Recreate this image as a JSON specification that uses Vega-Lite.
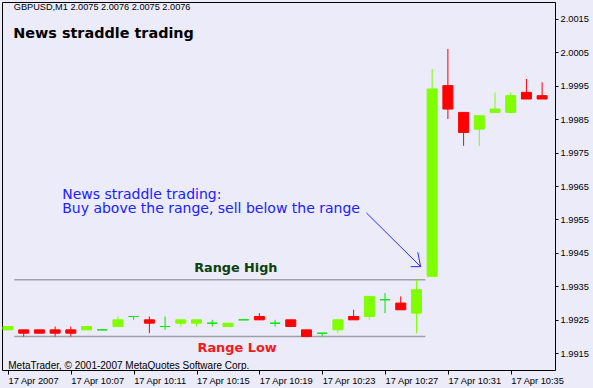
{
  "$schema": "https://vega.github.io/schema/vega-lite/v6.json",
  "width": 553,
  "height": 368,
  "autosize": {"type": "none"},
  "padding": {"left": 2, "top": 2, "right": 38, "bottom": 18},
  "background": "#ebebfa",
  "view": {"stroke": "#000000", "strokeWidth": 1, "fill": "#ebebfa"},
  "config": {
    "axis": {
      "domain": false,
      "grid": false,
      "labelFont": "Liberation Sans",
      "labelFontSize": 9.3,
      "labelColor": "#000000",
      "tickColor": "#000000",
      "tickWidth": 1,
      "labelOverlap": false,
      "labelFlush": false
    }
  },
  "datasets": {
    "candles": [
      {"t": "2007-04-17T10:03:00", "open": 1.9922, "high": 1.9923, "low": 1.9922, "close": 1.9923},
      {"t": "2007-04-17T10:04:00", "open": 1.9922, "high": 1.9922, "low": 1.9920, "close": 1.9921},
      {"t": "2007-04-17T10:05:00", "open": 1.9922, "high": 1.9922, "low": 1.9921, "close": 1.9921},
      {"t": "2007-04-17T10:06:00", "open": 1.9922, "high": 1.9923, "low": 1.9920, "close": 1.9921},
      {"t": "2007-04-17T10:07:00", "open": 1.9922, "high": 1.9923, "low": 1.9920, "close": 1.9921},
      {"t": "2007-04-17T10:08:00", "open": 1.9922, "high": 1.9923, "low": 1.9922, "close": 1.9923},
      {"t": "2007-04-17T10:09:00", "open": 1.9922, "high": 1.9922, "low": 1.9922, "close": 1.9922},
      {"t": "2007-04-17T10:10:00", "open": 1.9923, "high": 1.9926, "low": 1.9923, "close": 1.9925},
      {"t": "2007-04-17T10:11:00", "open": 1.9926, "high": 1.9926, "low": 1.9925, "close": 1.9926},
      {"t": "2007-04-17T10:12:00", "open": 1.9925, "high": 1.9926, "low": 1.9921, "close": 1.9924},
      {"t": "2007-04-17T10:13:00", "open": 1.9923, "high": 1.9926, "low": 1.9922, "close": 1.9923},
      {"t": "2007-04-17T10:14:00", "open": 1.9924, "high": 1.9925, "low": 1.9923, "close": 1.9925},
      {"t": "2007-04-17T10:15:00", "open": 1.9924, "high": 1.9925, "low": 1.9923, "close": 1.9925},
      {"t": "2007-04-17T10:16:00", "open": 1.9924, "high": 1.9925, "low": 1.9923, "close": 1.9924},
      {"t": "2007-04-17T10:17:00", "open": 1.9923, "high": 1.9924, "low": 1.9923, "close": 1.9924},
      {"t": "2007-04-17T10:18:00", "open": 1.9925, "high": 1.9925, "low": 1.9925, "close": 1.9925},
      {"t": "2007-04-17T10:19:00", "open": 1.9926, "high": 1.9927, "low": 1.9925, "close": 1.9925},
      {"t": "2007-04-17T10:20:00", "open": 1.9924, "high": 1.9925, "low": 1.9923, "close": 1.9924},
      {"t": "2007-04-17T10:21:00", "open": 1.9925, "high": 1.9925, "low": 1.9923, "close": 1.9923},
      {"t": "2007-04-17T10:22:00", "open": 1.9922, "high": 1.9922, "low": 1.9920, "close": 1.9920},
      {"t": "2007-04-17T10:23:00", "open": 1.9921, "high": 1.9921, "low": 1.9920, "close": 1.9921},
      {"t": "2007-04-17T10:24:00", "open": 1.9922, "high": 1.9925, "low": 1.9921, "close": 1.9925},
      {"t": "2007-04-17T10:25:00", "open": 1.9926, "high": 1.9928, "low": 1.9925, "close": 1.9925},
      {"t": "2007-04-17T10:26:00", "open": 1.9926, "high": 1.9932, "low": 1.9925, "close": 1.9932},
      {"t": "2007-04-17T10:27:00", "open": 1.9931, "high": 1.9933, "low": 1.9927, "close": 1.9931},
      {"t": "2007-04-17T10:28:00", "open": 1.9930, "high": 1.9932, "low": 1.9928, "close": 1.9928},
      {"t": "2007-04-17T10:29:00", "open": 1.9927, "high": 1.9937, "low": 1.9921, "close": 1.9934},
      {"t": "2007-04-17T10:30:00", "open": 1.9938, "high": 2.0000, "low": 1.9938, "close": 1.9994},
      {"t": "2007-04-17T10:31:00", "open": 1.9995, "high": 2.0006, "low": 1.9985, "close": 1.9988},
      {"t": "2007-04-17T10:32:00", "open": 1.9987, "high": 1.9987, "low": 1.9977, "close": 1.9981},
      {"t": "2007-04-17T10:33:00", "open": 1.9982, "high": 1.9986, "low": 1.9977, "close": 1.9986},
      {"t": "2007-04-17T10:34:00", "open": 1.9987, "high": 1.9993, "low": 1.9987, "close": 1.9988},
      {"t": "2007-04-17T10:35:00", "open": 1.9987, "high": 1.9993, "low": 1.9987, "close": 1.9992},
      {"t": "2007-04-17T10:36:00", "open": 1.9993, "high": 1.9997, "low": 1.9991, "close": 1.9991},
      {"t": "2007-04-17T10:37:00", "open": 1.9992, "high": 1.9996, "low": 1.9991, "close": 1.9991}
    ]
  },
  "encoding": {
    "x": {
      "field": "t",
      "type": "temporal",
      "title": null,
      "scale": {
        "domain": [
          {"year": 2007, "month": 4, "date": 17, "hours": 10, "minutes": 2, "seconds": 56, "milliseconds": 250},
          {"year": 2007, "month": 4, "date": 17, "hours": 10, "minutes": 37, "seconds": 30}
        ]
      },
      "axis": {
        "orient": "bottom",
        "values": [
          {"year": 2007, "month": 4, "date": 17, "hours": 10, "minutes": 3},
          {"year": 2007, "month": 4, "date": 17, "hours": 10, "minutes": 7},
          {"year": 2007, "month": 4, "date": 17, "hours": 10, "minutes": 11},
          {"year": 2007, "month": 4, "date": 17, "hours": 10, "minutes": 15},
          {"year": 2007, "month": 4, "date": 17, "hours": 10, "minutes": 19},
          {"year": 2007, "month": 4, "date": 17, "hours": 10, "minutes": 23},
          {"year": 2007, "month": 4, "date": 17, "hours": 10, "minutes": 27},
          {"year": 2007, "month": 4, "date": 17, "hours": 10, "minutes": 31},
          {"year": 2007, "month": 4, "date": 17, "hours": 10, "minutes": 35}
        ],
        "tickCount": 30,
        "labelExpr": "timeFormat(datum.value, '%H:%M') == '10:03' ? '17 Apr 2007' : '17 Apr ' + timeFormat(datum.value, '%H:%M')",
        "labelAlign": "left",
        "labelBaseline": "top",
        "labelPadding": 2,
        "tickSize": 4
      }
    }
  },
  "layer": [
    {
      "data": {"values": [
        {"name": "Range High", "t": "2007-04-17T10:03:24", "t2": "2007-04-17T10:29:34", "p": 1.9937},
        {"name": "Range Low", "t": "2007-04-17T10:03:24", "t2": "2007-04-17T10:29:34", "p": 1.9920}
      ]},
      "mark": {"type": "rule", "color": "#a0a0a6", "strokeWidth": 1.5},
      "encoding": {
        "x2": {"field": "t2"},
        "y": {"field": "p", "type": "quantitative", "title": null,
              "scale": {"domain": [1.991, 2.002], "nice": false, "zero": false},
              "axis": {
                "orient": "right",
                "values": [1.9915, 1.9925, 1.9935, 1.9945, 1.9955, 1.9965, 1.9975, 1.9985, 1.9995, 2.0005, 2.0015],
                "tickCount": 30,
                "format": ".4f",
                "tickSize": 3,
                "labelPadding": 2,
                "labelAlign": "left",
                "labelBaseline": "middle",
                "labelOverlap": false
              }}
      }
    },
    {
      "data": {"name": "candles"},
      "mark": {"type": "rule", "strokeWidth": 1, "clip": true},
      "encoding": {
        "y": {"field": "low", "type": "quantitative", "title": null,
              "scale": {"domain": [1.991, 2.002], "nice": false, "zero": false}},
        "y2": {"field": "high"},
        "color": {
          "condition": [
            {"test": "datum.close > datum.open", "value": "#7fff00"},
            {"test": "datum.close < datum.open", "value": "#ff0000"}
          ],
          "value": "#00e600"
        }
      }
    },
    {
      "data": {"name": "candles"},
      "mark": {"type": "bar", "size": 10, "strokeWidth": 1, "clip": true},
      "encoding": {
        "y": {"field": "open", "type": "quantitative", "title": null,
              "scale": {"domain": [1.991, 2.002], "nice": false, "zero": false}},
        "y2": {"field": "close"},
        "color": {
          "condition": [
            {"test": "datum.close > datum.open", "value": "#7fff00"},
            {"test": "datum.close < datum.open", "value": "#ff0000"}
          ],
          "value": "#00e600"
        },
        "stroke": {
          "condition": [
            {"test": "datum.close > datum.open", "value": "#7fff00"},
            {"test": "datum.close < datum.open", "value": "#ff0000"}
          ],
          "value": "#00e600"
        }
      }
    },
    {
      "data": {"values": [
        {"t": "2007-04-17T10:25:49", "t2": "2007-04-17T10:29:16", "p": 1.995694, "p2": 1.994089},
        {"t": "2007-04-17T10:29:05", "t2": "2007-04-17T10:29:16", "p": 1.994519, "p2": 1.994089},
        {"t": "2007-04-17T10:28:38", "t2": "2007-04-17T10:29:16", "p": 1.994089, "p2": 1.994089}
      ]},
      "mark": {"type": "rule", "color": "#2a2aff", "strokeWidth": 1},
      "encoding": {
        "x2": {"field": "t2"},
        "y": {"field": "p", "type": "quantitative", "title": null,
              "scale": {"domain": [1.991, 2.002], "nice": false, "zero": false}},
        "y2": {"field": "p2"}
      }
    },
    {
      "data": {"values": [
        {"label": "GBPUSD,M1  2.0075 2.0076 2.0075 2.0076", "t": "2007-04-17T10:03:22", "p": 2.00176}
      ]},
      "mark": {"type": "text", "align": "left", "baseline": "alphabetic", "font": "Liberation Sans", "fontSize": 9.2, "color": "#000000"},
      "encoding": {
        "y": {"field": "p", "type": "quantitative", "title": null,
              "scale": {"domain": [1.991, 2.002], "nice": false, "zero": false}},
        "text": {"field": "label"}
      }
    },
    {
      "data": {"values": [
        {"label": "News straddle trading", "t": "2007-04-17T10:03:20", "p": 2.00092}
      ]},
      "mark": {"type": "text", "align": "left", "baseline": "alphabetic", "font": "DejaVu Sans", "fontWeight": "bold", "fontSize": 14.4, "color": "#000000"},
      "encoding": {
        "y": {"field": "p", "type": "quantitative", "title": null,
              "scale": {"domain": [1.991, 2.002], "nice": false, "zero": false}},
        "text": {"field": "label"}
      }
    },
    {
      "data": {"values": [
        {"label": "News straddle trading:", "t": "2007-04-17T10:06:27", "p": 1.99611},
        {"label": "Buy above the range, sell below the range", "t": "2007-04-17T10:06:27", "p": 1.99569}
      ]},
      "mark": {"type": "text", "align": "left", "baseline": "alphabetic", "font": "DejaVu Sans", "fontSize": 14, "color": "#2020ff"},
      "encoding": {
        "y": {"field": "p", "type": "quantitative", "title": null,
              "scale": {"domain": [1.991, 2.002], "nice": false, "zero": false}},
        "text": {"field": "label"}
      }
    },
    {
      "data": {"values": [
        {"label": "Range High", "t": "2007-04-17T10:17:30", "p": 1.99394}
      ]},
      "mark": {"type": "text", "align": "center", "baseline": "alphabetic", "font": "DejaVu Sans", "fontWeight": "bold", "fontSize": 12.8, "color": "#0a400a"},
      "encoding": {
        "y": {"field": "p", "type": "quantitative", "title": null,
              "scale": {"domain": [1.991, 2.002], "nice": false, "zero": false}},
        "text": {"field": "label"}
      }
    },
    {
      "data": {"values": [
        {"label": "Range Low", "t": "2007-04-17T10:17:35", "p": 1.99155}
      ]},
      "mark": {"type": "text", "align": "center", "baseline": "alphabetic", "font": "DejaVu Sans", "fontWeight": "bold", "fontSize": 12.9, "color": "#f21a1a"},
      "encoding": {
        "y": {"field": "p", "type": "quantitative", "title": null,
              "scale": {"domain": [1.991, 2.002], "nice": false, "zero": false}},
        "text": {"field": "label"}
      }
    },
    {
      "data": {"values": [
        {"label": "MetaTrader, © 2001-2007 MetaQuotes Software Corp.", "t": "2007-04-17T10:03:01", "p": 1.99103}
      ]},
      "mark": {"type": "text", "align": "left", "baseline": "alphabetic", "font": "Liberation Sans", "fontSize": 10, "color": "#000000"},
      "encoding": {
        "y": {"field": "p", "type": "quantitative", "title": null,
              "scale": {"domain": [1.991, 2.002], "nice": false, "zero": false}},
        "text": {"field": "label"}
      }
    }
  ]
}
